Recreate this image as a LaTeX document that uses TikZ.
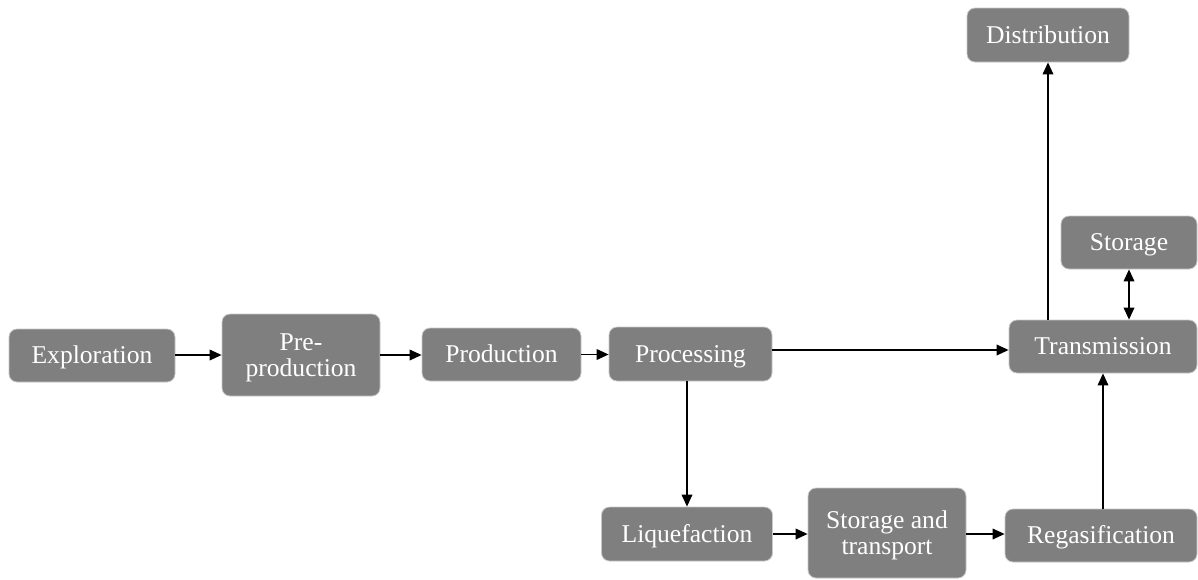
\documentclass[tikz,border=0pt]{standalone}
\usepackage{fontspec}
\setmainfont{Liberation Serif}
\newfontfamily\tnr{Liberation Serif}
\usetikzlibrary{arrows.meta}
\definecolor{boxfill}{RGB}{127,127,127}
\definecolor{boxline}{RGB}{200,200,200}
\begin{document}
\begin{tikzpicture}[x=0.75pt,y=-0.75pt,
  box/.style={draw=boxline,line width=0.6pt,fill=boxfill,rounded corners=6pt,
    text=white,align=center,inner sep=0pt,text height=12.7pt,text depth=0pt,
    font=\tnr\fontsize{19.2}{19.5}\selectfont},
  twoline/.style={text height=,text depth=0pt},
  arr/.style={draw=black,line width=1.1pt,-{Triangle[length=9pt,width=8pt]}},
  arrb/.style={draw=black,line width=1.1pt,{Triangle[length=9pt,width=8pt]}-{Triangle[length=9pt,width=8pt]}}]
\useasboundingbox (0,0) rectangle (1198,579);
\node[box,minimum width=124.5pt,minimum height=39.75pt] (expl) at (92,355.5) {Exploration};
\node[box,twoline,minimum width=118.5pt,minimum height=61.5pt] (pre) at (301,355) {Pre-\\production};
\node[box,minimum width=119.25pt,minimum height=39.75pt] (prod) at (501.5,354.5) {Production};
\node[box,minimum width=122.25pt,minimum height=40.5pt] (proc) at (690.5,354) {Processing};
\node[box,minimum width=141pt,minimum height=39.75pt] (trans) at (1103,346.5) {Transmission};
\node[box,minimum width=102pt,minimum height=39.75pt] (stor) at (1129,242.5) {Storage};
\node[box,minimum width=121.5pt,minimum height=40.5pt] (dist) at (1048,35) {Distribution};
\node[box,minimum width=128.25pt,minimum height=40.5pt] (liq) at (687,534) {Liquefaction};
\node[box,twoline,minimum width=118.5pt,minimum height=67.5pt] (st) at (887,533) {Storage and\\transport};
\node[box,minimum width=144pt,minimum height=39.75pt] (regas) at (1101,535.5) {Regasification};
\coordinate (yproc) at (0,350);
\coordinate (yliq) at (0,534);
\draw[arr] (expl.east |- pre.west) -- (pre.west);
\draw[arr] (pre.east) -- (prod.west |- pre.east);
\draw[arr] (prod.east) -- (proc.west |- prod.east);
\draw[arr] (proc.east |- yproc) -- (trans.west |- yproc);
\draw[arr] (dist.south |- trans.north) -- (dist.south);
\draw[arrb] (stor.south) -- (stor.south |- trans.north);
\draw[arr] (liq.north |- proc.south) -- (liq.north);
\draw[arr] (liq.east |- yliq) -- (st.west |- yliq);
\draw[arr] (st.east |- yliq) -- (regas.west |- yliq);
\draw[arr] (trans.south |- regas.north) -- (trans.south);
\end{tikzpicture}
\end{document}
